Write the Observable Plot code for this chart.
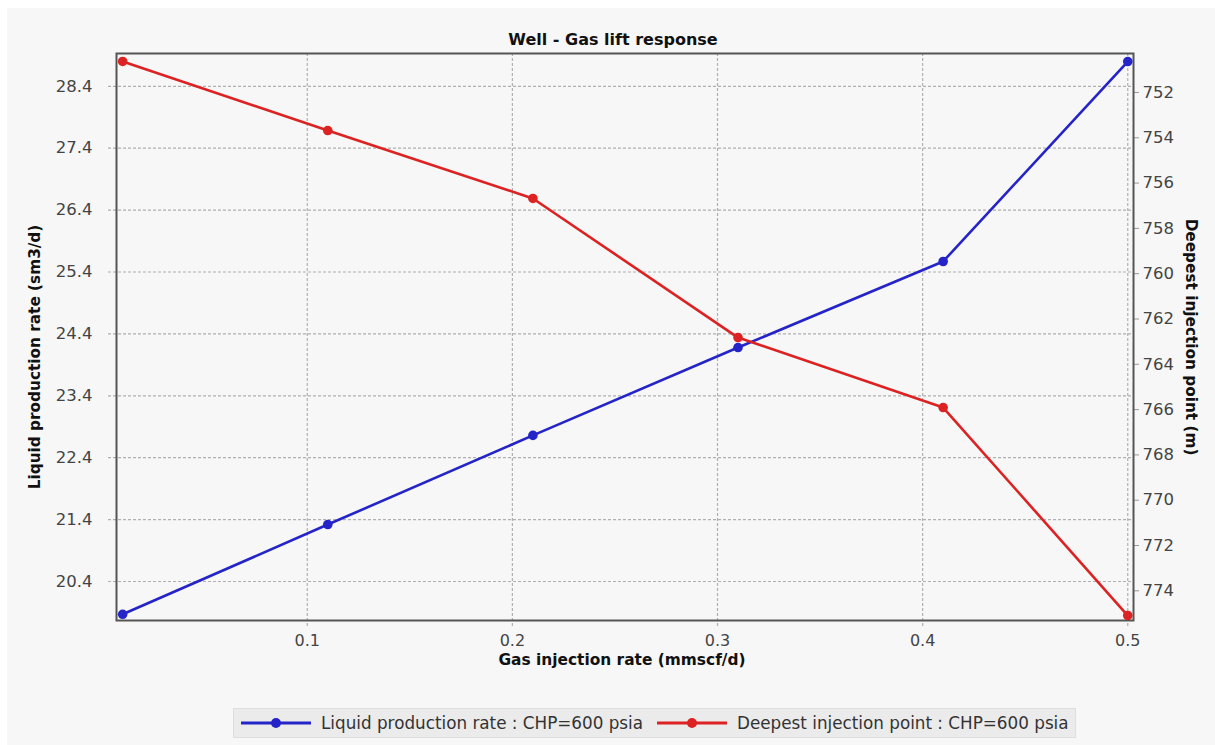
<!DOCTYPE html>
<html>
<head>
<meta charset="utf-8">
<script src="https://cdn.jsdelivr.net/npm/d3@7"></script>
<script src="https://cdn.jsdelivr.net/npm/@observablehq/plot@0.6"></script>
<style>
  html, body { margin:0; padding:0; background:#ffffff; width:1215px; height:745px; overflow:hidden; font-family:"DejaVu Sans", sans-serif; }
  #bg { position:absolute; left:7px; top:8px; width:1208px; height:737px; background:#f7f7f7; }
  #chart { position:absolute; left:0; top:0; }
  #legend { position:absolute; left:233px; top:708px; width:843px; height:30px; background:#ebebeb; border:1px solid #dedede; box-sizing:border-box; display:flex; align-items:center; font-size:16.8px; color:#333; }
  .item { display:flex; align-items:center; }
  .item svg { display:block; }
</style>
</head>
<body>
<div id="bg"></div>
<div id="chart"></div>
<div id="legend"></div>
<script>
const gasRates = [0.01, 0.11, 0.21, 0.31, 0.41, 0.5];
const liquidRates = [19.87, 21.32, 22.76, 24.18, 25.57, 28.80];
const injectionDepths = [750.63, 753.68, 756.68, 762.82, 765.91, 775.09];
const xTicks = [0.1, 0.2, 0.3, 0.4, 0.5];
const leftTicks = [20.4, 21.4, 22.4, 23.4, 24.4, 25.4, 26.4, 27.4, 28.4];
const rightTicks = [752, 754, 756, 758, 760, 762, 764, 766, 768, 770, 772, 774];
const seriesNames = ["Liquid production rate : CHP=600 psia", "Deepest injection point : CHP=600 psia"];
const seriesColors = ["#2424c8", "#dc2222"];

const xDomain = [0.007, 0.5028];
const yDomain = [19.77, 28.93];
const rDomain = [750.28, 775.31]; // top -> bottom on the right axis

const toLeft = v => yDomain[1] - (v - rDomain[0]) * (yDomain[1] - yDomain[0]) / (rDomain[1] - rDomain[0]);
const fromLeft = u => rDomain[0] + (yDomain[1] - u) * (rDomain[1] - rDomain[0]) / (yDomain[1] - yDomain[0]);

const liquid = gasRates.map((g, i) => ({x: g, y: liquidRates[i]}));
const depth = gasRates.map((g, i) => ({x: g, y: toLeft(injectionDepths[i])}));

const chart = Plot.plot({
  width: 1215,
  height: 700,
  marginTop: 53,
  marginLeft: 116,
  marginRight: 82,
  marginBottom: 80,
  style: {background: "transparent", fontFamily: "DejaVu Sans, sans-serif", overflow: "visible"},
  x: {domain: xDomain},
  y: {domain: yDomain},
  marks: [
    Plot.ruleY(leftTicks, {stroke: "#b0b0b0", strokeWidth: 1.2, strokeDasharray: "3,2", insetLeft: -8}),
    Plot.ruleX(xTicks, {stroke: "#b0b0b0", strokeWidth: 1.2, strokeDasharray: "3,2", insetBottom: -7}),
    Plot.axisX(xTicks, {tickSize: 0, tickPadding: 14, fontSize: 16, fill: "#444", label: null, tickFormat: d => String(d)}),
    Plot.axisY(leftTicks, {anchor: "left", tickSize: 0, tickPadding: 24, fontSize: 16.5, fill: "#444", label: null, tickFormat: d => d.toFixed(1)}),
    Plot.axisY(rightTicks.map(toLeft), {anchor: "right", tickSize: 5, tickPadding: 4, stroke: "#999", fontSize: 16.5, fill: "#444", label: null, tickFormat: d => String(Math.round(fromLeft(d)))}),
    Plot.frame({stroke: "#555", strokeWidth: 2}),
    Plot.line(liquid, {x: "x", y: "y", stroke: seriesColors[0], strokeWidth: 2.6}),
    Plot.dot(liquid, {x: "x", y: "y", r: 4.8, fill: seriesColors[0], stroke: "none"}),
    Plot.line(depth, {x: "x", y: "y", stroke: seriesColors[1], strokeWidth: 2.6}),
    Plot.dot(depth, {x: "x", y: "y", r: 4.8, fill: seriesColors[1], stroke: "none"}),
    Plot.text(["Well - Gas lift response"], {text: d => d, frameAnchor: "top", dy: -20, dx: -12, fontWeight: "bold", fontSize: 16, fill: "#111"}),
    Plot.text(["Gas injection rate (mmscf/d)"], {text: d => d, frameAnchor: "bottom", dy: 44, dx: -3, fontWeight: "bold", fontSize: 15.4, fill: "#111"}),
    Plot.text(["Liquid production rate (sm3/d)"], {text: d => d, frameAnchor: "left", textAnchor: "middle", dx: -81, dy: 20, rotate: -90, fontWeight: "bold", fontSize: 15.3, fill: "#111"}),
    Plot.text(["Deepest injection point (m)"], {text: d => d, frameAnchor: "right", textAnchor: "middle", dx: 57, rotate: 90, fontWeight: "bold", fontSize: 15.3, fill: "#111"})
  ]
});
document.getElementById("chart").appendChild(chart);

const legend = document.getElementById("legend");
seriesNames.forEach((name, i) => {
  const item = document.createElement("div");
  item.className = "item";
  item.style.marginLeft = i === 0 ? "7px" : "14px";
  item.innerHTML = `<svg width="70" height="12"><line x1="0" y1="6" x2="70" y2="6" stroke="${seriesColors[i]}" stroke-width="3"/><circle cx="35" cy="6" r="5" fill="${seriesColors[i]}"/></svg><span style="margin-left:10px">${name}</span>`;
  legend.appendChild(item);
});
</script>
</body>
</html>
